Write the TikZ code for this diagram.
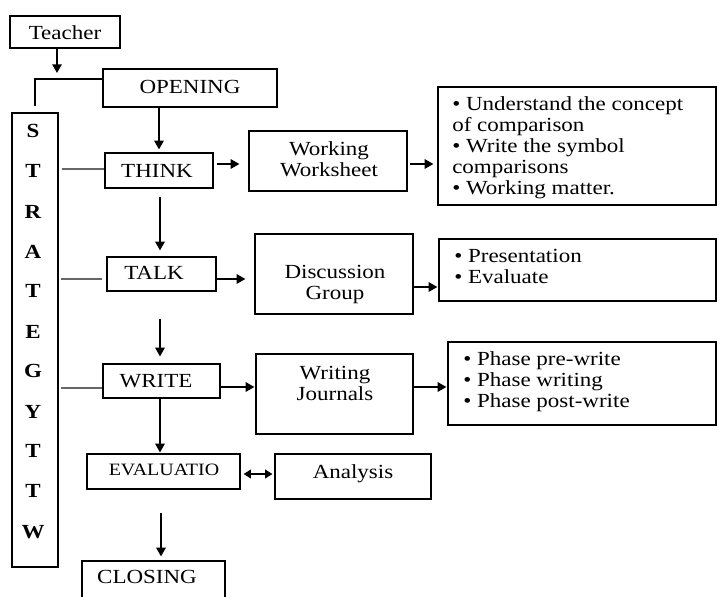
\documentclass[tikz,border=0pt]{standalone}
\usepackage{fontspec}
\setmainfont[FakeStretch=1.15]{Liberation Serif}
\usetikzlibrary{arrows.meta,fit}
\begin{document}
\begin{tikzpicture}[x=0.75pt,y=-0.75pt,
  box/.style={draw, line width=0.9pt, inner sep=0pt},
  arr/.style={line width=1.3pt, -{Triangle[length=6.5pt,width=7pt]}},
  darr/.style={line width=1.3pt, {Triangle[length=5.5pt,width=6.5pt]}-{Triangle[length=5.5pt,width=6.5pt]}},
  tie/.style={line width=0.8pt, draw=black!60},
  txt/.style={font=\fontsize{15}{15.75}\selectfont, inner sep=0pt, align=center},
  lst/.style={font=\fontsize{15}{15.75}\selectfont, inner sep=0pt, align=left, anchor=north west},
  ltr/.style={font=\fontsize{15}{15}\selectfont\bfseries, inner sep=0pt}]
\useasboundingbox (0,0) rectangle (717,596);

% boxes
\node[box, fit={(10,16) (120,48)}] (teacher) {};
\node[box, fit={(103,69) (277,107)}] (opening) {};
\node[box, fit={(12,113) (58,567)}] (strat) {};
\node[box, fit={(105,153) (213,188)}] (think) {};
\node[box, fit={(249,131) (407,191)}] (ww) {};
\node[box, fit={(438,87) (716,205)}] (b1) {};
\node[box, fit={(107,257) (216,291)}] (talk) {};
\node[box, fit={(255,234) (413,314)}] (dg) {};
\node[box, fit={(439,239) (716,301)}] (b2) {};
\node[box, fit={(103,364) (220,398)}] (write) {};
\node[box, fit={(256,354) (413,434)}] (wj) {};
\node[box, fit={(448,342) (716,425)}] (b3) {};
\node[box, fit={(87,454) (240,489)}] (eval) {};
\node[box, fit={(275,454) (431,499)}] (anal) {};
\node[box, fit={(82,561) (225,610)}] (closing) {};

% texts
\node[txt] (teachert) at (65,33) {Teacher};
\node[txt] (openingt) at (190,87) {OPENING};
\node[txt] (thinkt) at (157,171) {THINK};
\node[txt] (talkt) at (154,273) {TALK};
\node[txt] (writet) at (156,381) {WRITE};
\node[txt, font=\fontsize{13}{13}\selectfont] (evalt) at (164,470) {EVALUATIO};
\node[txt] (analt) at (353,474) {Analysis};
\node[txt] (closingt) at (147,577) {CLOSING};
\node[txt] (wwt) at (329,159) {Working\\Worksheet};
\node[txt] (dgt) at (335,285) {Discussion\\Group};
\node[txt] (wjt) at (335,383) {Writing\\Journals};
\node[lst] (b1t) at (452,96) {• Understand the concept\\of comparison\\• Write the symbol\\comparisons\\• Working matter.};
\node[lst] (b2t) at (454,249) {• Presentation\\• Evaluate};
\node[lst] (b3t) at (463,351) {• Phase pre-write\\• Phase writing\\• Phase post-write};

% strategy letters
\node[ltr] (l1) at (33,131) {S};
\node[ltr] (l2) at (33,171) {T};
\node[ltr] (l3) at (33,212) {R};
\node[ltr] (l4) at (33,252) {A};
\node[ltr] (l5) at (33,291) {T};
\node[ltr] (l6) at (33,332) {E};
\node[ltr] (l7) at (33,371) {G};
\node[ltr] (l8) at (33,412) {Y};
\node[ltr] (l9) at (33,451) {T};
\node[ltr] (l10) at (33,491) {T};
\node[ltr] (l11) at (33,532) {W};

% connectors
\coordinate (tdrop) at (57,73);
\draw[arr] (teacher.south -| tdrop) -- (tdrop);
\draw[line width=0.9pt, shorten >=4.5pt] (opening.west |- 0,79) -| (strat.north);
\draw[arr, shorten >=2.25pt] (think.north |- opening.south) -- (think.north);
\draw[arr, shorten <=6pt, shorten >=4.5pt] (160,0 |- think.south) -- (160,0 |- talk.north);
\draw[arr, shorten <=20.25pt, shorten >=5.25pt] (160,0 |- talk.south) -- (160,0 |- write.north);
\draw[arr, shorten >=0.75pt] (160,0 |- write.south) -- (160,0 |- eval.north);
\draw[arr, shorten <=17.25pt, shorten >=3pt] (161,0 |- eval.south) -- (161,0 |- closing.north);

\draw[arr, shorten <=2.25pt, shorten >=6.75pt] (think.east |- 0,164) -- (ww.west |- 0,164);
\draw[arr, shorten <=1.5pt, shorten >=3pt] (ww.east |- 0,164) -- (b1.west |- 0,164);
\draw[arr, shorten >=6.75pt] (talk.east |- 0,279) -- (dg.west |- 0,279);
\draw[arr, shorten >=0.75pt] (dg.east |- 0,287) -- (b2.west |- 0,287);
\draw[arr, shorten >=0.75pt] (write.east |- 0,387) -- (wj.west |- 0,387);
\draw[arr, shorten >=0.75pt] (wj.east |- 0,387) -- (b3.west |- 0,387);
\draw[darr, shorten <=2.25pt, shorten >=1.5pt] (eval.east |- 0,474) -- (anal.west |- 0,474);

\draw[tie, shorten <=2.25pt] (strat.east |- 0,169) -- (think.west |- 0,169);
\draw[tie, shorten <=1.5pt, shorten >=3pt] (strat.east |- 0,279) -- (talk.west |- 0,279);
\draw[tie, shorten <=1.5pt] (strat.east |- 0,388) -- (write.west |- 0,388);
\end{tikzpicture}
\end{document}
